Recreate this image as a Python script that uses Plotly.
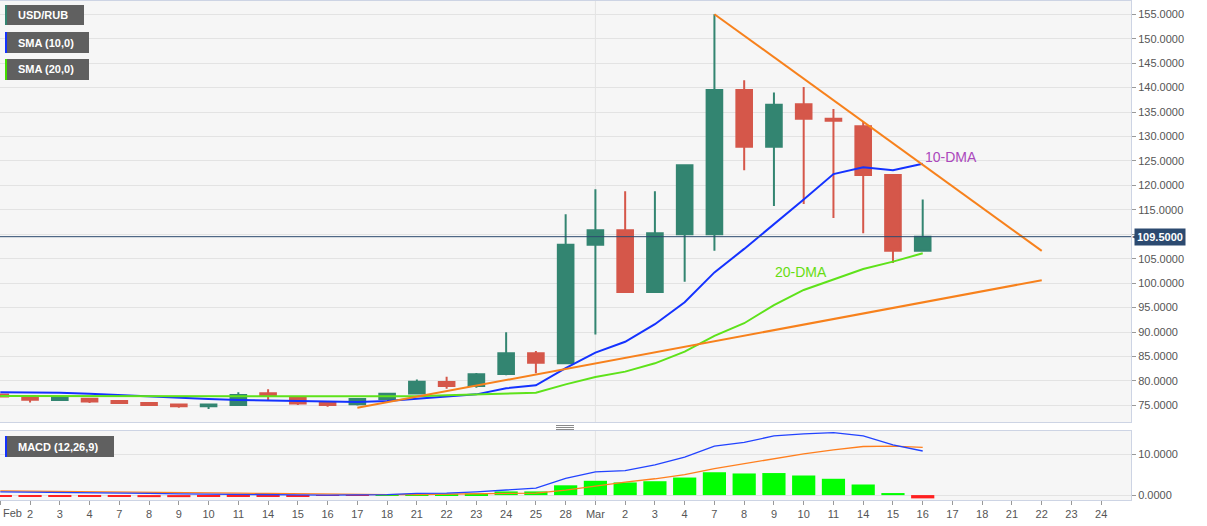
import plotly.graph_objects as go

# ---------------- data ----------------
tick_labels = ["Feb", "2", "3", "4", "7", "8", "9", "10", "11", "14", "15", "16", "17", "18",
               "21", "22", "23", "24", "25", "28", "Mar", "2", "3", "4", "7", "8", "9", "10",
               "11", "14", "15", "16", "17", "18", "21", "22", "23", "24"]

open_ = [77.2, 76.55, 76.1, 76.35, 75.9, 75.5, 75.2, 74.8, 75.1, 77.5, 76.55, 75.6, 75.25, 76.3,
         77.45, 79.77, 78.95, 81.4, 85.64, 83.6, 107.86, 110.8, 98.18, 110.0, 110.0, 139.5,
         127.9, 136.6, 133.6, 132.1, 122.1, 106.6]
high = [77.4, 76.6, 76.6, 76.45, 76.0, 75.7, 75.3, 75.3, 77.7, 78.3, 76.6, 75.7, 76.5, 77.6,
        80.3, 80.85, 81.6, 89.94, 86.1, 114.08, 119.2, 118.8, 118.8, 124.2, 155.0, 141.5,
        139.0, 140.1, 135.6, 132.96, 122.2, 117.1]
low = [76.6, 75.6, 76.0, 75.5, 75.4, 75.05, 74.5, 74.25, 74.85, 76.1, 75.1, 74.7, 75.0, 76.1,
       77.3, 78.4, 78.6, 81.14, 81.55, 83.4, 89.5, 98.0, 98.0, 100.3, 106.6, 123.1,
       115.8, 116.2, 113.3, 110.2, 104.1, 106.5]
close = [76.8, 76.15, 76.5, 75.8, 75.5, 75.1, 74.8, 75.2, 77.1, 76.95, 75.4, 75.1, 76.3, 77.4,
         79.83, 78.95, 81.34, 85.64, 83.7, 107.86, 110.8, 98.18, 110.2, 124.1, 139.5, 127.9,
         136.5, 133.6, 133.2, 122.1, 106.6, 109.5]

sma10 = [77.7, 77.7, 77.6, 77.4, 77.1, 76.9, 76.6, 76.3, 76.1, 76.0, 75.9, 75.8, 75.7, 75.9,
         76.4, 76.8, 77.25, 78.5, 79.1, 82.6, 85.8, 88.0, 91.6, 96.1, 102.2, 107.0,
         112.0, 117.1, 122.3, 123.7, 123.1, 124.4]
sma20 = [76.9, 76.9, 76.9, 76.9, 76.9, 76.85, 76.8, 76.8, 76.8, 76.8, 76.8, 76.75, 76.75, 76.8,
         76.85, 77.05, 77.25, 77.4, 77.6, 79.3, 80.8, 81.9, 83.6, 86.0, 89.2, 91.8,
         95.5, 98.6, 100.8, 102.9, 104.4, 106.1]

macd_line = [0.8, 0.75, 0.7, 0.6, 0.5, 0.4, 0.3, 0.2, 0.15, 0.1, 0.05, 0.0, 0.0, 0.1,
             0.4, 0.5, 0.8, 1.3, 1.7, 4.1, 5.7, 6.0, 7.4, 9.3, 12.0, 12.9,
             14.5, 15.0, 15.3, 14.5, 12.3, 10.8]
signal_line = [1.05, 1.0, 0.95, 0.9, 0.85, 0.8, 0.7, 0.6, 0.5, 0.4, 0.3, 0.2, 0.1, 0.1,
               0.15, 0.2, 0.3, 0.4, 0.5, 1.2, 2.2, 3.2, 4.0, 5.0, 6.5, 7.7,
               8.9, 10.1, 11.1, 11.9, 12.0, 11.7]
histogram = [-0.3, -0.35, -0.35, -0.4, -0.45, -0.5, -0.5, -0.45, -0.35, -0.3, -0.25, -0.2, -0.1, 0.05,
             0.25, 0.3, 0.4, 0.9, 0.9, 2.4, 3.5, 3.1, 3.4, 4.3, 5.6, 5.3,
             5.4, 4.8, 4.0, 2.6, 0.5, -0.8]

price_ticks = [75, 80, 85, 90, 95, 100, 105, 110, 115, 120, 125, 130, 135, 140, 145, 150, 155]
macd_ticks = [0, 10]

# trendlines (day index, price)
down_trend_x = [24, 35]
down_trend_y = [155.0, 106.6]
up_trend_x = [12, 35]
up_trend_y = [74.5, 100.6]

last_price = 109.5

# ---------------- layout helpers ----------------
W, H = 1207, 526
ML, MR, MT, MB = 0, 76, 1, 26
PW = W - ML - MR
PH = H - MT - MB


def px(x):
    return (x - ML) / PW


def py(y):
    return (H - MB - y) / PH


FONT = "Liberation Sans, Arial, sans-serif"
BORDER = "#cdd4e4"
GRID = "#e3e3e3"
UP = "#338571"
DOWN = "#d5574a"

n = len(close)
x_idx = list(range(n))
all_idx = list(range(len(tick_labels)))

fig = go.Figure()

fig.add_trace(go.Candlestick(
    x=x_idx, open=open_, high=high, low=low, close=close,
    increasing=dict(fillcolor=UP, line=dict(color=UP, width=2)),
    decreasing=dict(fillcolor=DOWN, line=dict(color=DOWN, width=2)),
    whiskerwidth=0, xaxis="x", yaxis="y", showlegend=False, name="USD/RUB"))

fig.add_trace(go.Scatter(x=x_idx, y=sma10, mode="lines",
                         line=dict(color="#1432ff", width=2), xaxis="x", yaxis="y",
                         showlegend=False))
fig.add_trace(go.Scatter(x=x_idx, y=sma20, mode="lines",
                         line=dict(color="#5ee21a", width=2), xaxis="x", yaxis="y",
                         showlegend=False))
fig.add_trace(go.Scatter(x=down_trend_x, y=down_trend_y, mode="lines",
                         line=dict(color="#f7811c", width=2), xaxis="x", yaxis="y",
                         showlegend=False))
fig.add_trace(go.Scatter(x=up_trend_x, y=up_trend_y, mode="lines",
                         line=dict(color="#f7811c", width=2), xaxis="x", yaxis="y",
                         showlegend=False))

hist_colors = ["#00ff00" if v >= 0 else "#ff2020" for v in histogram]
fig.add_trace(go.Bar(x=x_idx, y=histogram, marker=dict(color=hist_colors, line=dict(width=0)),
                     width=0.78, xaxis="x2", yaxis="y2", showlegend=False))
fig.add_trace(go.Scatter(x=x_idx, y=signal_line, mode="lines",
                         line=dict(color="#ff7f1e", width=1.3), xaxis="x2", yaxis="y2",
                         showlegend=False))
fig.add_trace(go.Scatter(x=x_idx, y=macd_line, mode="lines",
                         line=dict(color="#2243ff", width=1.3), xaxis="x2", yaxis="y2",
                         showlegend=False))

main_bottom = py(422)
macd_top = py(431)

# the last-price tag covers the nearest tick label
price_ticktext = ["" if abs(v - last_price) < 2.5 else "%.4f" % v for v in price_ticks]

fig.update_layout(
    width=W, height=H,
    margin=dict(l=ML, r=MR, t=MT, b=MB),
    paper_bgcolor="white", plot_bgcolor="#f6f6f6",
    font=dict(family=FONT, size=11, color="#555555"),
    boxgap=0.25,
    bargap=0.2,
    xaxis=dict(domain=[0, 1], range=[-0.01, 38], anchor="y", showgrid=False,
               showticklabels=False, showline=True, mirror=True, linecolor=BORDER,
               linewidth=1, zeroline=False, rangeslider=dict(visible=False), fixedrange=True),
    xaxis2=dict(domain=[0, 1], range=[-0.01, 38], anchor="y2", matches="x", showgrid=False,
                tickmode="array", tickvals=all_idx,
                ticktext=[""] + tick_labels[1:],
                ticks="outside", ticklen=4, tickcolor="#999999",
                tickfont=dict(size=11, color="#555555"),
                showline=True, mirror=True, linecolor=BORDER, zeroline=False),
    yaxis=dict(domain=[main_bottom, 1], range=[71.6, 157.7], side="right", anchor="x",
               tickmode="array", tickvals=price_ticks, ticktext=price_ticktext,
               showgrid=True, gridcolor=GRID,
               ticks="outside", ticklen=4, tickcolor="#999999",
               showline=True, mirror=True, linecolor=BORDER, zeroline=False),
    yaxis2=dict(domain=[0, macd_top], range=[-1.2, 15.7], side="right", anchor="x2",
                tickmode="array", tickvals=macd_ticks,
                ticktext=["%.4f" % v for v in macd_ticks], showgrid=True, gridcolor=GRID,
                ticks="outside", ticklen=4, tickcolor="#999999",
                showline=True, mirror=True, linecolor=BORDER, zeroline=False),
)

shapes = []
# vertical month separator (Mar 1)
mar_idx = tick_labels.index("Mar")
for yref in ["y domain", "y2 domain"]:
    shapes.append(dict(type="line", xref="x", x0=mar_idx, x1=mar_idx, yref=yref, y0=0, y1=1,
                       line=dict(color=GRID, width=1), layer="below"))
# last price line
shapes.append(dict(type="line", xref="x domain", x0=0, x1=1, yref="y", y0=last_price, y1=last_price,
                   line=dict(color="#2c4a6e", width=1)))

# legend boxes
boxes = [
    ("USD/RUB", 5, 25, 84, UP),
    ("SMA (10,0)", 32, 53, 89, "#1432ff"),
    ("SMA (20,0)", 59, 80, 89, "#44dd00"),
    ("MACD (12,26,9)", 436, 457, 114, "#1432ff"),
]
annotations = []
for label, top, bottom, right, col in boxes:
    shapes.append(dict(type="rect", xref="paper", yref="paper", x0=px(7), x1=px(right),
                       y0=py(bottom), y1=py(top), fillcolor="#606060", line=dict(width=0)))
    shapes.append(dict(type="rect", xref="paper", yref="paper", x0=px(5), x1=px(7),
                       y0=py(bottom), y1=py(top), fillcolor=col, line=dict(width=0)))
    annotations.append(dict(xref="paper", yref="paper", x=px(16), y=py((top + bottom) / 2),
                            xanchor="left", yanchor="middle", showarrow=False,
                            text="<b>%s</b>" % label,
                            font=dict(family=FONT, size=11, color="white")))

# drag handle between panes
for yy in [425.5, 427.5, 429.5]:
    shapes.append(dict(type="line", xref="paper", yref="paper", x0=px(556), x1=px(574),
                       y0=py(yy), y1=py(yy), line=dict(color="#8a8a8a", width=1)))

# last price tag
annotations.append(dict(xref="paper", yref="y", x=1, y=last_price, xanchor="left", yanchor="middle",
                        xshift=3, showarrow=False, text="<b>109.5000</b>",
                        font=dict(family=FONT, size=11, color="white"),
                        bgcolor="#2c4a70", borderpad=2))
annotations.append(dict(xref="paper", yref="y", x=1, y=last_price, xanchor="left", yanchor="middle",
                        xshift=-1, showarrow=False, text="◀",
                        font=dict(family="DejaVu Sans", size=8, color="#2c4a70")))

# MA labels
annotations.append(dict(xref="x", yref="y", x=31, y=125.8, xanchor="left", yanchor="middle",
                        showarrow=False, text="10-DMA",
                        font=dict(family=FONT, size=14, color="#ab47bc")))
annotations.append(dict(xref="x", yref="y", x=25.97, y=102.3, xanchor="left", yanchor="middle",
                        showarrow=False, text="20-DMA",
                        font=dict(family=FONT, size=14, color="#66dd11")))

# first x label "Feb" (left aligned so it stays visible)
annotations.append(dict(xref="x2", yref="paper", x=0, y=py(513), xanchor="left", yanchor="middle",
                        xshift=1, showarrow=False, text="Feb",
                        font=dict(family=FONT, size=11, color="#555555")))

fig.update_layout(shapes=shapes, annotations=annotations)

fig.write_html("out.html", config={"displayModeBar": False},
               post_script="document.body.style.margin='0';document.body.style.padding='0';")
